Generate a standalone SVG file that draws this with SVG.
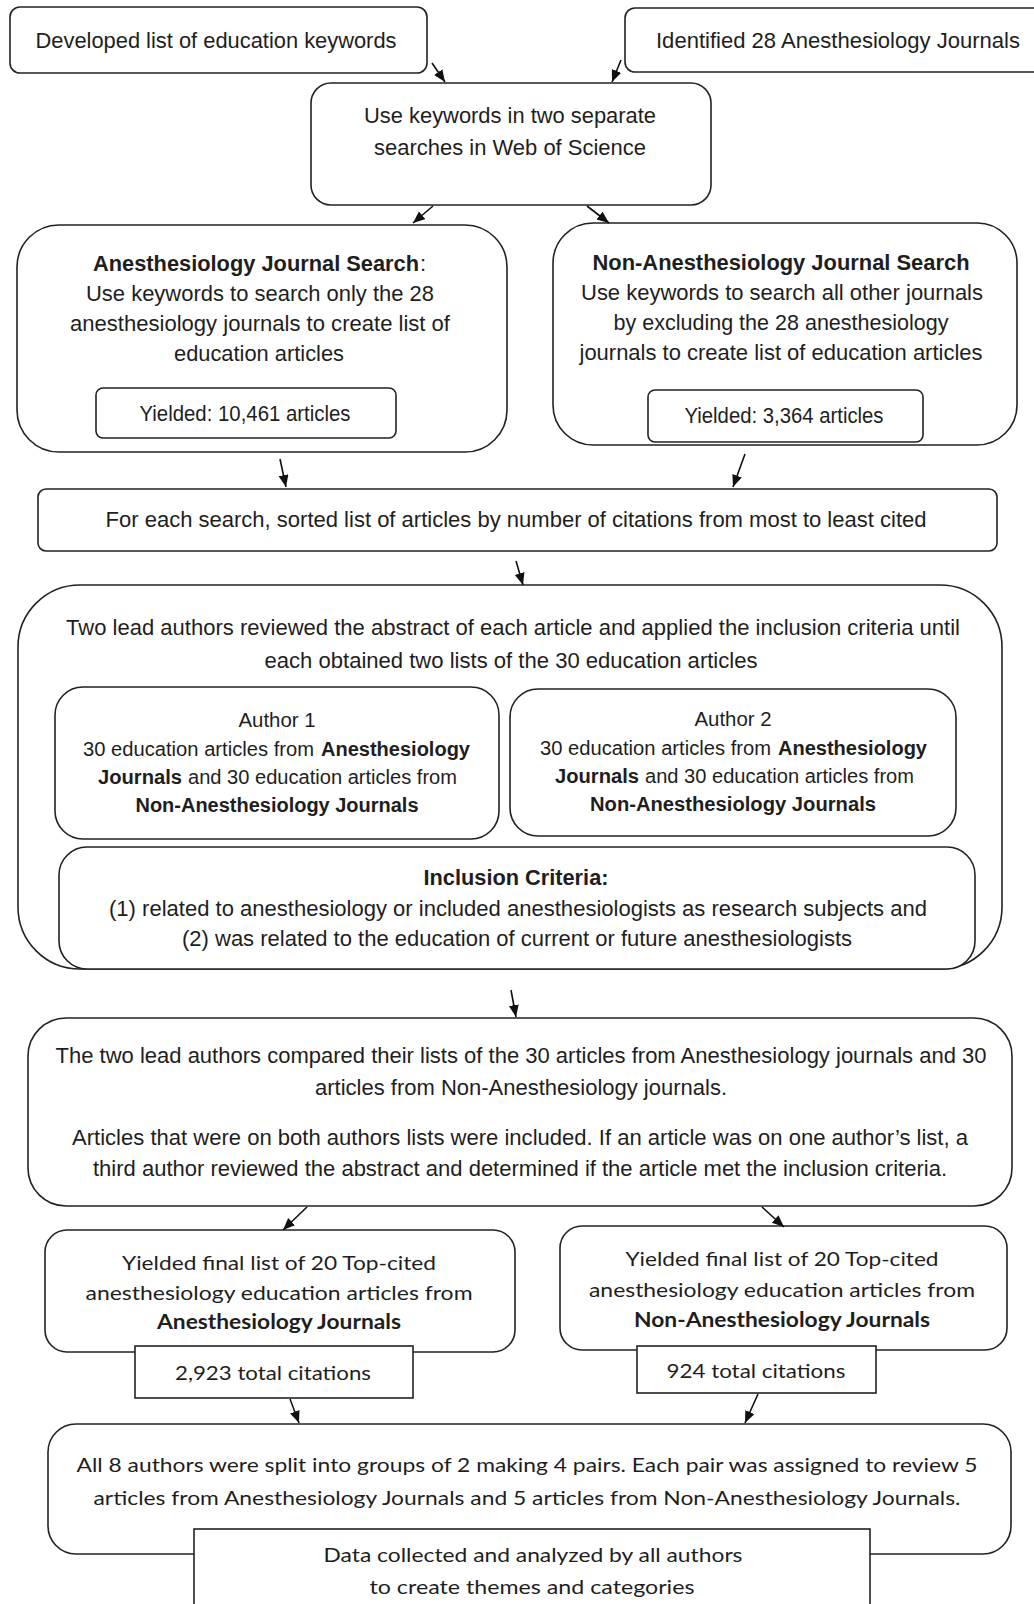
<svg xmlns="http://www.w3.org/2000/svg" width="1034" height="1604" viewBox="0 0 1034 1604">
<style>
.box{fill:#fff;stroke:#222;stroke-width:1.6}
.t{font-family:"Liberation Sans",Arial,sans-serif;font-size:22px;fill:#1e1e1e;text-anchor:middle}
.a{font-size:20px}
.s{text-anchor:start}
.c{font-family:Lato,"Open Sans",sans-serif;font-size:20px;fill:#1e1e1e;text-anchor:middle}
.b{font-weight:bold}
.ar{stroke:#111;stroke-width:1.6;fill:none;marker-end:url(#ah)}
</style>
<defs>
<marker id="ah" markerUnits="userSpaceOnUse" markerWidth="14" markerHeight="12" refX="12" refY="5" orient="auto">
<path d="M0,0 L12,5 L0,10 z" fill="#111"/>
</marker>
</defs>

<g id="n1">
<rect class="box" x="10" y="7" width="417" height="66" rx="10"/>
<text class="t" x="216" y="48" textLength="361" lengthAdjust="spacingAndGlyphs">Developed list of education keywords</text>
</g>
<g id="n2">
<rect class="box" x="625" y="8" width="420" height="64" rx="10"/>
<text class="t" x="838" y="48" textLength="364" lengthAdjust="spacingAndGlyphs">Identified 28 Anesthesiology Journals</text>
</g>
<g id="n3">
<rect class="box" x="311" y="83" width="400" height="122" rx="20"/>
<text class="t" x="510" y="123" textLength="292" lengthAdjust="spacingAndGlyphs">Use keywords in two separate</text>
<text class="t" x="510" y="155" textLength="272" lengthAdjust="spacingAndGlyphs">searches in Web of Science</text>
</g>
<g id="n4">
<rect class="box" x="17" y="225" width="490" height="227" rx="42"/>
<text class="t s b" x="93" y="271" textLength="326" lengthAdjust="spacingAndGlyphs">Anesthesiology Journal Search</text>
<text class="t s" x="420" y="271">:</text>
<text class="t" x="260" y="301" textLength="348" lengthAdjust="spacingAndGlyphs">Use keywords to search only the 28</text>
<text class="t" x="260" y="331" textLength="380" lengthAdjust="spacingAndGlyphs">anesthesiology journals to create list of</text>
<text class="t" x="259" y="361" textLength="170" lengthAdjust="spacingAndGlyphs">education articles</text>
<rect class="box" x="96" y="388" width="300" height="50" rx="7"/>
<text class="t" x="245" y="421" textLength="211" lengthAdjust="spacingAndGlyphs">Yielded: 10,461 articles</text>
</g>
<g id="n5">
<rect class="box" x="553" y="223" width="464" height="222" rx="40"/>
<text class="t b" x="781" y="270" textLength="377" lengthAdjust="spacingAndGlyphs">Non-Anesthesiology Journal Search</text>
<text class="t" x="782" y="300" textLength="402" lengthAdjust="spacingAndGlyphs">Use keywords to search all other journals</text>
<text class="t" x="781" y="330" textLength="335" lengthAdjust="spacingAndGlyphs">by excluding the 28 anesthesiology</text>
<text class="t" x="781" y="360" textLength="403" lengthAdjust="spacingAndGlyphs">journals to create list of education articles</text>
<rect class="box" x="648" y="390" width="275" height="52" rx="7"/>
<text class="t" x="784" y="423" textLength="199" lengthAdjust="spacingAndGlyphs">Yielded: 3,364 articles</text>
</g>
<g id="n6">
<rect class="box" x="38" y="489" width="959" height="62" rx="8"/>
<text class="t" x="516" y="527" textLength="821" lengthAdjust="spacingAndGlyphs">For each search, sorted list of articles by number of citations from most to least cited</text>
</g>
<g id="n7">
<rect class="box" x="18" y="585" width="984" height="384" rx="62"/>
<text class="t" x="513" y="635" textLength="894" lengthAdjust="spacingAndGlyphs">Two lead authors reviewed the abstract of each article and applied the inclusion criteria until</text>
<text class="t" x="511" y="668" textLength="493" lengthAdjust="spacingAndGlyphs">each obtained two lists of the 30 education articles</text>
</g>
<g id="n8">
<rect class="box" x="55" y="687" width="444" height="152" rx="28"/>
<text class="t a" x="277" y="727" textLength="77" lengthAdjust="spacingAndGlyphs">Author 1</text>
<text class="t a s" x="83" y="756" textLength="231" lengthAdjust="spacingAndGlyphs">30 education articles from</text>
<text class="t a s b" x="321" y="756" textLength="149" lengthAdjust="spacingAndGlyphs">Anesthesiology</text>
<text class="t a s b" x="98" y="784" textLength="84" lengthAdjust="spacingAndGlyphs">Journals</text>
<text class="t a s" x="188" y="784" textLength="269" lengthAdjust="spacingAndGlyphs">and 30 education articles from</text>
<text class="t a b" x="277" y="812" textLength="283" lengthAdjust="spacingAndGlyphs">Non-Anesthesiology Journals</text>
</g>
<g id="n9">
<rect class="box" x="510" y="689" width="446" height="147" rx="28"/>
<text class="t a" x="733" y="726" textLength="77" lengthAdjust="spacingAndGlyphs">Author 2</text>
<text class="t a s" x="540" y="755" textLength="231" lengthAdjust="spacingAndGlyphs">30 education articles from</text>
<text class="t a s b" x="778" y="755" textLength="149" lengthAdjust="spacingAndGlyphs">Anesthesiology</text>
<text class="t a s b" x="555" y="783" textLength="84" lengthAdjust="spacingAndGlyphs">Journals</text>
<text class="t a s" x="645" y="783" textLength="269" lengthAdjust="spacingAndGlyphs">and 30 education articles from</text>
<text class="t a b" x="733" y="811" textLength="286" lengthAdjust="spacingAndGlyphs">Non-Anesthesiology Journals</text>
</g>
<g id="n10">
<rect class="box" x="59" y="847" width="916" height="122" rx="28"/>
<text class="t b" x="516" y="885" textLength="185" lengthAdjust="spacingAndGlyphs">Inclusion Criteria:</text>
<text class="t" x="518" y="916" textLength="818" lengthAdjust="spacingAndGlyphs">(1) related to anesthesiology or included anesthesiologists as research subjects and</text>
<text class="t" x="517" y="946" textLength="670" lengthAdjust="spacingAndGlyphs">(2) was related to the education of current or future anesthesiologists</text>
</g>
<g id="n11">
<rect class="box" x="28" y="1018" width="984" height="188" rx="38"/>
<text class="t" x="521" y="1063" textLength="931" lengthAdjust="spacingAndGlyphs">The two lead authors compared their lists of the 30 articles from Anesthesiology journals and 30</text>
<text class="t" x="521" y="1095" textLength="412" lengthAdjust="spacingAndGlyphs">articles from Non-Anesthesiology journals.</text>
<text class="t" x="520" y="1145" textLength="896" lengthAdjust="spacingAndGlyphs">Articles that were on both authors lists were included. If an article was on one author’s list, a</text>
<text class="t" x="520" y="1176" textLength="854" lengthAdjust="spacingAndGlyphs">third author reviewed the abstract and determined if the article met the inclusion criteria.</text>
</g>
<g id="n12">
<rect class="box" x="45" y="1230" width="470" height="122" rx="22"/>
<text class="c" x="279" y="1270" textLength="314" lengthAdjust="spacingAndGlyphs">Yielded final list of 20 Top-cited</text>
<text class="c" x="279" y="1300" textLength="387" lengthAdjust="spacingAndGlyphs">anesthesiology education articles from</text>
<text class="c b" x="279" y="1329" textLength="244" lengthAdjust="spacingAndGlyphs">Anesthesiology Journals</text>
<rect class="box" x="135" y="1346" width="278" height="52"/>
<text class="c" x="273" y="1380" textLength="196" lengthAdjust="spacingAndGlyphs">2,923 total citations</text>
</g>
<g id="n13">
<rect class="box" x="560" y="1226" width="447" height="124" rx="22"/>
<text class="c" x="782" y="1266" textLength="313" lengthAdjust="spacingAndGlyphs">Yielded final list of 20 Top-cited</text>
<text class="c" x="782" y="1297" textLength="386" lengthAdjust="spacingAndGlyphs">anesthesiology education articles from</text>
<text class="c b" x="782" y="1327" textLength="296" lengthAdjust="spacingAndGlyphs">Non-Anesthesiology Journals</text>
<rect class="box" x="637" y="1346" width="239" height="47"/>
<text class="c" x="756" y="1378" textLength="179" lengthAdjust="spacingAndGlyphs">924 total citations</text>
</g>
<g id="n14">
<rect class="box" x="48" y="1424" width="963" height="130" rx="28"/>
<text class="c" x="527" y="1472" textLength="901" lengthAdjust="spacingAndGlyphs">All 8 authors were split into groups of 2 making 4 pairs. Each pair was assigned to review 5</text>
<text class="c" x="527" y="1505" textLength="867" lengthAdjust="spacingAndGlyphs">articles from Anesthesiology Journals and 5 articles from Non-Anesthesiology Journals.</text>
<rect class="box" x="194" y="1529" width="676" height="90"/>
<text class="c" x="533" y="1562" textLength="419" lengthAdjust="spacingAndGlyphs">Data collected and analyzed by all authors</text>
<text class="c" x="532" y="1594" textLength="325" lengthAdjust="spacingAndGlyphs">to create themes and categories</text>
</g>

<g id="connectors">
<line class="ar" x1="432" y1="63" x2="445" y2="82"/>
<line class="ar" x1="621" y1="60" x2="612" y2="82"/>
<line class="ar" x1="433" y1="206" x2="413" y2="223"/>
<line class="ar" x1="587" y1="206" x2="609" y2="223"/>
<line class="ar" x1="280" y1="459" x2="286" y2="487"/>
<line class="ar" x1="745" y1="454" x2="733" y2="487"/>
<line class="ar" x1="516" y1="561" x2="523" y2="585"/>
<line class="ar" x1="511" y1="990" x2="516" y2="1017"/>
<line class="ar" x1="307" y1="1207" x2="283" y2="1230"/>
<line class="ar" x1="762" y1="1207" x2="784" y2="1227"/>
<line class="ar" x1="290" y1="1399" x2="299" y2="1423"/>
<line class="ar" x1="758" y1="1394" x2="745" y2="1423"/>
</g>
</svg>
